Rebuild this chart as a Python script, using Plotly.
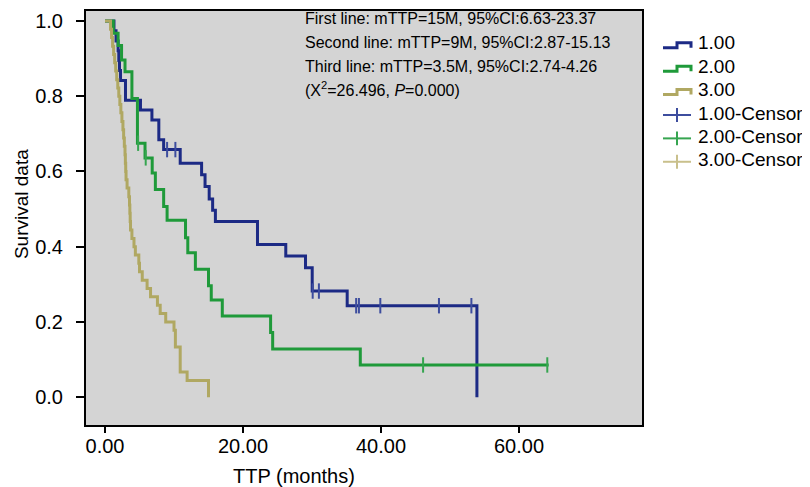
import plotly.graph_objects as go

# ---- data ----
blue_t = [0, 1.3, 1.6, 1.9, 2.0, 2.1, 2.25, 2.97, 5.14, 6.8, 7.8, 8.5, 10.9, 14.0, 14.5, 15.1,
          15.6, 16.0, 22.1, 26.2, 29.06, 30.03, 35.1, 53.9]
blue_s = [1.0, 0.974, 0.947, 0.921, 0.895, 0.868, 0.842, 0.789, 0.763, 0.737, 0.684, 0.658, 0.622,
          0.591, 0.56, 0.527, 0.497, 0.467, 0.406, 0.375, 0.344, 0.282, 0.243, 0.0]
blue_cens_t = [9.0, 10.2, 30.1, 31.0, 36.4, 36.8, 39.9, 48.4, 53.1]
blue_cens_s = [0.658, 0.658, 0.282, 0.282, 0.243, 0.243, 0.243, 0.243, 0.243]

green_t = [0, 1.2, 1.9, 2.4, 2.9, 3.9, 4.7, 5.8, 6.84, 7.3, 8.5, 9.0, 11.67, 12.0, 13.1, 15.0,
           15.4, 17.0, 24.0, 24.3, 37.0, 64.3]
green_s = [1.0, 0.967, 0.935, 0.896, 0.865, 0.794, 0.675, 0.636, 0.596, 0.552, 0.507, 0.47, 0.424,
           0.384, 0.34, 0.296, 0.258, 0.216, 0.172, 0.128, 0.0855, 0.0855]
green_cens_t = [4.8, 5.9, 46.1, 64.1]
green_cens_s = [0.675, 0.636, 0.0855, 0.0855]

yellow_t = [0, 0.8, 0.95, 1.1, 1.25, 1.4, 1.55, 1.7, 1.85, 2.0, 2.15, 2.3, 2.45,
            2.6, 2.7, 2.8, 2.9, 2.95, 3.0, 3.05, 3.2, 3.45, 3.55, 3.6, 3.65, 3.7,
            3.9, 4.2, 4.4, 4.9, 5.0, 5.4, 6.1, 6.6, 7.6, 8.0, 8.8, 10.0, 10.2, 10.9, 11.9, 15.0]
yellow_s = [1.0, 0.978, 0.956, 0.933, 0.911, 0.889, 0.867, 0.844, 0.822, 0.800, 0.778, 0.756, 0.733,
            0.711, 0.689, 0.667, 0.644, 0.622, 0.600, 0.578, 0.556, 0.533, 0.511, 0.489, 0.467, 0.444,
            0.422, 0.400, 0.378, 0.356, 0.333, 0.311, 0.289, 0.267, 0.244, 0.222, 0.200, 0.178, 0.133,
            0.067, 0.044, 0.0]

x_ticks = [0, 20, 40, 60]
x_tick_labels = ["0.00", "20.00", "40.00", "60.00"]
y_ticks = [0.0, 0.2, 0.4, 0.6, 0.8, 1.0]
y_tick_labels = ["0.0", "0.2", "0.4", "0.6", "0.8", "1.0"]

legend_labels = ["1.00", "2.00", "3.00", "1.00-Censor", "2.00-Censor", "3.00-Censor"]
stats_lines = [
    "First line: mTTP=15M, 95%CI:6.63-23.37",
    "Second line: mTTP=9M, 95%CI:2.87-15.13",
    "Third line: mTTP=3.5M, 95%CI:2.74-4.26",
    "(X<sup>2</sup>=26.496, <i>P</i>=0.000)",
]

# ---- styling ----
C_BLUE, C_GREEN, C_YEL = "#1c2a85", "#1f9a3a", "#b0a862"
C_BLUE_C, C_GREEN_C, C_YEL_C = "#3d4d9e", "#36a550", "#c9c08c"
FONT = "Liberation Sans, Arial, sans-serif"
W, H = 810, 487
L, R, T, B = 78, 634, 1, 417   # plot area in pixels
X0PX, X60PX = 97.0, 511.0      # pixel positions of x=0 and x=60
Y1PX, Y0PX = 11.0, 389.0       # pixel positions of y=1 and y=0


def px(xp):
    return (xp - L) / (R - L)


def py(yp):
    return (B - yp) / (B - T)


fig = go.Figure()
for t, s, c in [(blue_t, blue_s, C_BLUE), (green_t, green_s, C_GREEN), (yellow_t, yellow_s, C_YEL)]:
    fig.add_trace(go.Scatter(x=t, y=s, mode="lines", line=dict(color=c, width=3, shape="hv"),
                             showlegend=False, hoverinfo="skip"))
for t, s, c in [(blue_cens_t, blue_cens_s, C_BLUE_C), (green_cens_t, green_cens_s, C_GREEN_C)]:
    fig.add_trace(go.Scatter(x=t, y=s, mode="markers",
                             marker=dict(symbol="line-ns", size=11, line=dict(color=c, width=2)),
                             showlegend=False, hoverinfo="skip"))

ux = (X60PX - X0PX) / 60.0
x0 = (L - X0PX) / ux
x1 = (R - X0PX) / ux
uy = (Y0PX - Y1PX)
y0 = (Y0PX - B) / uy
y1 = (Y0PX - T) / uy

fig.update_layout(
    width=W, height=H,
    margin=dict(l=L, r=W - R, t=T, b=H - B, pad=0),
    paper_bgcolor="white", plot_bgcolor="#d4d4d4",
    font=dict(family=FONT, size=20, color="black"),
    showlegend=False,
    xaxis=dict(range=[x0, x1], tickvals=x_ticks, ticktext=x_tick_labels, ticks="outside",
               ticklen=6, tickwidth=2, tickcolor="black", showgrid=False, zeroline=False,
               showline=True, linecolor="black", linewidth=2, mirror=True,
               ticklabelstandoff=-4,
               tickfont=dict(size=20, family=FONT)),
    yaxis=dict(range=[y0, y1], tickvals=y_ticks, ticktext=y_tick_labels, ticks="outside",
               ticklen=8, tickwidth=2, tickcolor="black", showgrid=False, zeroline=False,
               showline=True, linecolor="black", linewidth=2, mirror=True,
               ticklabelstandoff=9,
               tickfont=dict(size=20, family=FONT)),
)

# axis titles
fig.add_annotation(xref="paper", yref="paper", x=px(13), y=py(195), text="Survival data",
                   textangle=-90, showarrow=False, font=dict(size=19, family=FONT),
                   xanchor="center", yanchor="middle")
fig.add_annotation(xref="paper", yref="paper", x=px(286), y=py(468), text="TTP (months)",
                   showarrow=False, font=dict(size=20, family=FONT),
                   xanchor="center", yanchor="middle")

# statistics text block
stat_y = [9, 33, 57, 79]
for txt, yy in zip(stats_lines, stat_y):
    fig.add_annotation(xref="paper", yref="paper", x=px(295), y=py(yy), text=txt,
                       showarrow=False, xanchor="left", yanchor="middle",
                       font=dict(size=16, family=FONT))

# custom legend
leg_y = [33, 56.5, 80, 103.5, 127, 150.5]
line_cols = [C_BLUE, C_GREEN, C_YEL]
cens_cols = [C_BLUE_C, C_GREEN_C, C_YEL_C]
gx0, gx1, gx2 = 655, 669, 683
for i, lab in enumerate(legend_labels):
    yc = leg_y[i]
    if i < 3:
        path = (f"M {px(gx0)} {py(yc + 5)} L {px(gx1)} {py(yc + 5)} L {px(gx1)} {py(yc)} "
                f"L {px(gx2)} {py(yc)} L {px(gx2)} {py(yc + 5)}")
        fig.add_shape(type="path", path=path, xref="paper", yref="paper",
                      line=dict(color=line_cols[i], width=3))
    else:
        c = cens_cols[i - 3]
        fig.add_shape(type="line", xref="paper", yref="paper", x0=px(gx0), x1=px(gx2),
                      y0=py(yc + 2), y1=py(yc + 2), line=dict(color=c, width=2))
        fig.add_shape(type="line", xref="paper", yref="paper", x0=px(gx1), x1=px(gx1),
                      y0=py(yc - 5), y1=py(yc + 9), line=dict(color=c, width=2))
    fig.add_annotation(xref="paper", yref="paper", x=px(688), y=py(yc), text=lab,
                       showarrow=False, xanchor="left", yanchor="middle",
                       font=dict(size=19, family=FONT))

fig.write_html("out.html")
